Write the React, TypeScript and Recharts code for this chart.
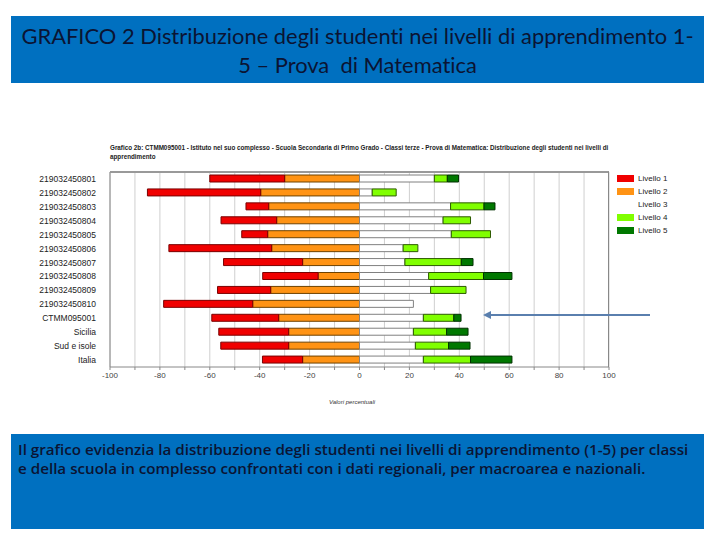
import React from 'react';
import { BarChart, Bar, XAxis, YAxis, CartesianGrid } from 'recharts';

const categories = [
  '219032450801', '219032450802', '219032450803', '219032450804', '219032450805',
  '219032450806', '219032450807', '219032450808', '219032450809', '219032450810',
  'CTMM095001', 'Sicilia', 'Sud e isole', 'Italia',
];

const livello1 = [30, 45.4, 9.1, 22.3, 10.4, 41.2, 31.7, 22.2, 21.3, 35.7, 26.8, 28, 27.2, 16.1];
const livello2 = [30, 39.6, 36.4, 33.2, 36.8, 35.2, 22.8, 16.6, 35.6, 42.8, 32.4, 28.4, 28.4, 22.8];
const livello3 = [30, 5.1, 36.5, 33.5, 36.8, 17.5, 18.2, 27.7, 28.5, 21.6, 25.6, 21.6, 22.4, 25.6];
const livello4 = [5.2, 9.6, 13.4, 11, 15.7, 5.9, 22.6, 22, 14.2, 0, 12.2, 13.3, 13.3, 18.9];
const livello5 = [4.5, 0, 4.4, 0, 0, 0, 4.7, 11.4, 0, 0, 2.9, 8.6, 8.6, 16.6];

const xTicks = [-100, -90, -80, -70, -60, -50, -40, -30, -20, -10, 0, 10, 20, 30, 40, 50, 60, 70, 80, 90, 100];

const levels = [
  { key: 'l1', name: 'Livello 1', fill: '#f00000', stroke: '#7a0000' },
  { key: 'l2', name: 'Livello 2', fill: '#ff9314', stroke: '#6e4200' },
  { key: 'l3', name: 'Livello 3', fill: '#ffffff', stroke: '#808080' },
  { key: 'l4', name: 'Livello 4', fill: '#80ff00', stroke: '#2d5a00' },
  { key: 'l5', name: 'Livello 5', fill: '#007800', stroke: '#003000' },
];

const data = categories.map((name, i) => ({
  name,
  l1: -livello1[i],
  l2: -livello2[i],
  l3: livello3[i],
  l4: livello4[i],
  l5: livello5[i],
}));

// negative side stacks outward from zero: level 2 first, then level 1
const seriesOrder = ['l2', 'l1', 'l3', 'l4', 'l5'];

const YTick = (props: any) => {
  const { x, y, payload } = props;
  return (
    <text x={x} y={y} dy={3} textAnchor="end" fontSize={8.5} fill="#222">
      {payload.value}
    </text>
  );
};

export default function App() {
  const navy = '#0b1433';
  return (
    <div style={{ position: 'absolute', left: 0, top: 0, width: 720, height: 540, background: '#fff', fontFamily: 'Arial, "Liberation Sans", sans-serif' }}>
      <div style={{ position: 'absolute', left: 11, top: 16, width: 693, height: 67, background: '#0070c0', color: navy, fontFamily: 'Lato, "Open Sans", sans-serif', fontSize: 21.9, lineHeight: '29px', textAlign: 'center', paddingTop: 5, boxSizing: 'border-box', fontVariantLigatures: 'none', whiteSpace: 'nowrap' }}>
        GRAFICO 2 Distribuzione degli studenti nei livelli di apprendimento 1-<br />5 – Prova&nbsp; di Matematica
      </div>

      <div style={{ position: 'absolute', left: 110, top: 143, width: 540, fontSize: 6.3, fontWeight: 'bold', lineHeight: '9px', color: '#222' }}>
        Grafico 2b: CTMM095001 - Istituto nel suo complesso - Scuola Secondaria di Primo Grado - Classi terze - Prova di Matematica: Distribuzione degli studenti nei livelli di<br />apprendimento
      </div>

      <div style={{ position: 'absolute', left: 0, top: 0 }}>
        <BarChart
          width={720}
          height={540}
          data={data}
          layout="vertical"
          stackOffset="sign"
          barSize={7}
          margin={{ top: 172, right: 111, left: 40, bottom: 153 }}
        >
          <CartesianGrid horizontal={false} stroke="#cfcfcf" />
          <XAxis
            type="number"
            domain={[-100, 100]}
            ticks={xTicks}
            interval={0}
            tickFormatter={(v: number) => (v % 20 === 0 ? String(v) : '')}
            tick={{ fontSize: 8, fill: '#444' }}
            tickSize={3}
            tickLine={{ stroke: '#888' }}
            axisLine={{ stroke: '#888' }}
            height={20}
          />
          <YAxis
            type="category"
            dataKey="name"
            width={70}
            tick={<YTick />}
            tickLine={false}
            axisLine={{ stroke: '#888' }}
            tickMargin={8}
            interval={0}
          />
          {seriesOrder.map((k) => {
            const lv = levels.find((l) => l.key === k)!;
            return (
              <Bar
                key={k}
                dataKey={k}
                name={lv.name}
                stackId="a"
                fill={lv.fill}
                stroke={lv.stroke}
                strokeWidth={1}
                isAnimationActive={false}
              />
            );
          })}
        </BarChart>
      </div>

      {/* plot frame: top and right borders */}
      <div style={{ position: 'absolute', left: 110, top: 171, width: 499, height: 196, borderTop: '2px solid #999', borderRight: '1px solid #888', boxSizing: 'border-box', pointerEvents: 'none' }} />

      <div style={{ position: 'absolute', left: 617, top: 172, fontSize: 8, color: '#222' }}>
        {levels.map((lv) => (
          <div key={lv.key} style={{ display: 'flex', alignItems: 'center', height: 13 }}>
            <div style={{ width: 17, height: 7, background: lv.fill, marginRight: 4 }} />
            <span>{lv.name}</span>
          </div>
        ))}
      </div>

      <div style={{ position: 'absolute', left: 302, top: 399, width: 100, textAlign: 'center', fontSize: 6, fontStyle: 'italic', color: '#333' }}>
        Valori percentuali
      </div>

      <svg style={{ position: 'absolute', left: 0, top: 0 }} width={720} height={540}>
        <line x1={650} y1={315} x2={489} y2={315} stroke="#5a7fae" strokeWidth={2} />
        <polygon points="483,315 491,311 491,319" fill="#5a7fae" />
      </svg>

      <div style={{ position: 'absolute', left: 11, top: 434, width: 693, height: 95, background: '#0070c0', color: navy, fontFamily: '"Open Sans", Lato, sans-serif', fontSize: 15.2, fontWeight: 600, lineHeight: '19px', padding: '6px 0 0 7px', boxSizing: 'border-box', whiteSpace: 'nowrap' }}>
        Il grafico evidenzia la distribuzione degli studenti nei livelli di apprendimento (1-5) per classi<br />
        e della scuola in complesso confrontati con i dati regionali, per macroarea e nazionali.
      </div>
    </div>
  );
}
